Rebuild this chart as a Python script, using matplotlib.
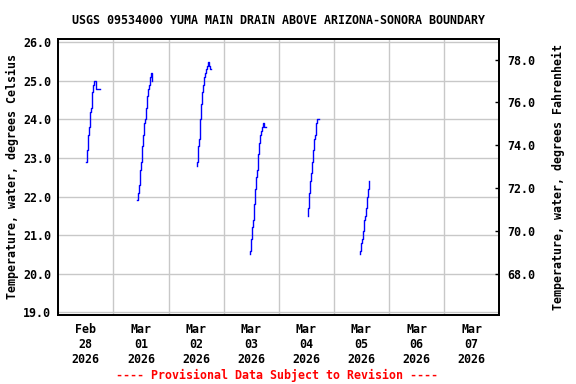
import numpy as np
import pandas as pd
import matplotlib
matplotlib.use('Agg')
import matplotlib.pyplot as plt
import matplotlib.dates as mdates
from matplotlib.ticker import FixedLocator, FuncFormatter

# 15-minute water temperature (deg C), one daytime segment per day
seg_starts = ['2026-02-28 12:15', '2026-03-01 10:15', '2026-03-02 12:15',
              '2026-03-03 11:15', '2026-03-04 12:30', '2026-03-05 11:15']
seg_values = [
    [22.9, 23.2, 23.4, 23.6, 23.7, 23.8, 24.0, 24.2, 24.3, 24.5, 24.7, 24.8,
     24.9, 24.9, 25.0, 25.0, 24.9, 24.8, 24.8, 24.8, 24.8, 24.8, 24.8, 24.8],
    [21.9, 22.0, 22.1, 22.2, 22.3, 22.5, 22.7, 22.9, 23.1, 23.3, 23.4, 23.6,
     23.7, 23.9, 24.0, 24.2, 24.3, 24.5, 24.6, 24.7, 24.8, 24.9, 25.0, 25.1,
     25.1, 25.2, 25.2, 25.0],
    [22.8, 22.9, 23.1, 23.3, 23.5, 23.8, 24.0, 24.2, 24.4, 24.6, 24.7, 24.9,
     25.0, 25.1, 25.2, 25.2, 25.3, 25.3, 25.4, 25.4, 25.5, 25.5, 25.4, 25.3,
     25.3, 25.3],
    [20.5, 20.6, 20.8, 20.9, 21.0, 21.2, 21.4, 21.6, 21.8, 22.0, 22.2, 22.3,
     22.5, 22.7, 22.9, 23.1, 23.2, 23.4, 23.5, 23.6, 23.7, 23.8, 23.8, 23.9,
     23.9, 23.9, 23.8, 23.8, 23.8],
    [21.5, 21.7, 21.9, 22.1, 22.3, 22.4, 22.6, 22.8, 22.9, 23.1, 23.2, 23.3,
     23.5, 23.6, 23.7, 23.9, 24.0, 24.0, 24.0, 24.0, 24.0],
    [20.5, 20.6, 20.7, 20.8, 20.9, 21.0, 21.1, 21.2, 21.4, 21.5, 21.6, 21.7,
     21.9, 22.0, 22.1, 22.2, 22.4],
]

day_labels = ['Feb\n28\n2026', 'Mar\n01\n2026', 'Mar\n02\n2026', 'Mar\n03\n2026',
              'Mar\n04\n2026', 'Mar\n05\n2026', 'Mar\n06\n2026', 'Mar\n07\n2026']
c_ticks = [19.0, 20.0, 21.0, 22.0, 23.0, 24.0, 25.0, 26.0]
f_ticks = [68.0, 70.0, 72.0, 74.0, 76.0, 78.0]

title = 'USGS 09534000 YUMA MAIN DRAIN ABOVE ARIZONA-SONORA BOUNDARY'
font = {'family': 'DejaVu Sans Mono', 'weight': 'bold', 'size': 8.4}

fig = plt.figure(figsize=(5.76, 3.84), dpi=100)
ax = fig.add_axes([58.3 / 576, 1 - 314.5 / 384, (499.3 - 58.3) / 576, (314.5 - 39.3) / 384])

for start, vals in zip(seg_starts, seg_values):
    t = pd.date_range(start, periods=len(vals), freq='15min')
    ax.plot(t, vals, color='blue', linewidth=1.0, drawstyle='steps-post')

x0 = pd.Timestamp('2026-02-28')
ax.set_xlim(x0, pd.Timestamp('2026-03-08'))
ax.set_ylim(18.94, 26.08)

midnights = [x0 + pd.Timedelta(days=i) for i in range(1, 8)]
noons = [x0 + pd.Timedelta(days=i, hours=12) for i in range(8)]
ax.set_xticks(mdates.date2num(midnights))
ax.set_xticklabels([])
ax.set_xticks(mdates.date2num(noons), minor=True)
ax.set_xticklabels(day_labels, minor=True, fontdict=font, linespacing=1.22)
ax.tick_params(axis='x', which='both', length=0, pad=6)

ax.yaxis.set_major_locator(FixedLocator(c_ticks))
ax.yaxis.set_major_formatter(FuncFormatter(lambda v, p: f'{v:.1f}'))
ax.tick_params(axis='y', length=0, pad=5)
for lab in ax.get_yticklabels():
    lab.set_fontproperties(matplotlib.font_manager.FontProperties(**font))

ax.grid(True, which='major', color='#c8c8c8', linewidth=1.0)
for s in ax.spines.values():
    s.set_linewidth(1.3)
    s.set_color('black')

ax.set_ylabel('Temperature, water, degrees Celsius', fontdict=font, labelpad=3)

# Fahrenheit axis on the right
ax2 = ax.twinx()
lo, hi = ax.get_ylim()
ax2.set_ylim(lo * 9 / 5 + 32, hi * 9 / 5 + 32)
ax2.yaxis.set_major_locator(FixedLocator(f_ticks))
ax2.yaxis.set_major_formatter(FuncFormatter(lambda v, p: f'{v:.1f}'))
ax2.tick_params(axis='y', direction='in', length=3, width=1, pad=6)
for lab in ax2.get_yticklabels():
    lab.set_fontproperties(matplotlib.font_manager.FontProperties(**font))
ax2.set_ylabel('Temperature, water, degrees Fahrenheit', fontdict=font, labelpad=12)
for s in ax2.spines.values():
    s.set_linewidth(1.3)

fig.text(279 / 576, 1 - 20 / 384, title, ha='center', va='center', fontdict=font)
fig.text(277 / 576, 1 - 375 / 384, '---- Provisional Data Subject to Revision ----',
         ha='center', va='center', color='red', fontdict=font)

fig.savefig('out.png', dpi=100)
